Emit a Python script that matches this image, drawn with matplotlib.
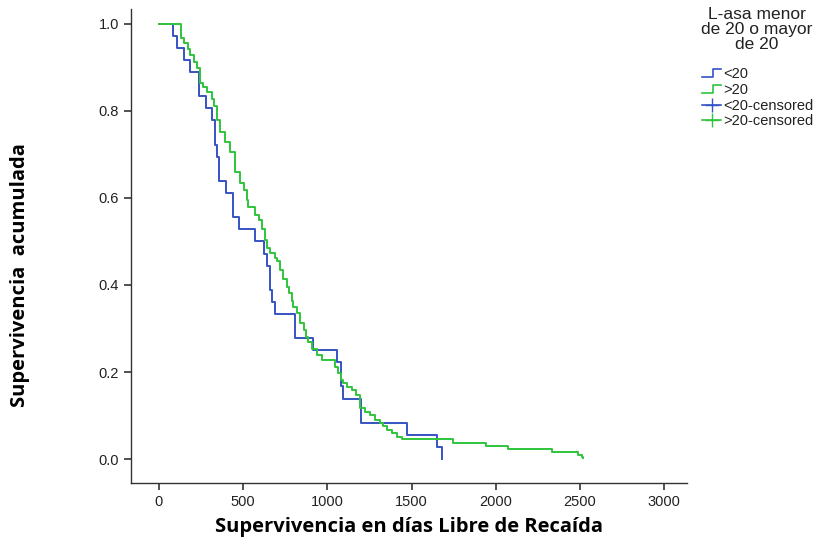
import matplotlib
matplotlib.use('Agg')
import matplotlib.pyplot as plt
from matplotlib.lines import Line2D
from matplotlib.legend_handler import HandlerBase

# drop times (days) and survival level after each drop
t_lt20 = [0, 85, 109, 150, 184, 239, 279, 313, 333, 343, 358, 398, 441, 475, 570,
          624, 640, 659, 669, 689, 808, 913, 1060, 1079, 1094, 1198, 1474, 1649, 1682]
s_lt20 = [1.0, 0.972, 0.944, 0.917, 0.889, 0.833, 0.806, 0.778, 0.722, 0.694, 0.639,
          0.611, 0.556, 0.528, 0.5, 0.472, 0.444, 0.389, 0.361, 0.333, 0.278, 0.25,
          0.222, 0.167, 0.139, 0.083, 0.056, 0.028, 0.0]

t_gt20 = [0, 131, 150, 170, 184, 208, 227, 243, 263, 287, 313, 328, 343, 362, 392,
          422, 451, 481, 505, 521, 530, 570, 596, 610, 629, 640, 659, 689, 702, 719,
          738, 758, 774, 788, 798, 818, 837, 863, 873, 887, 907, 936, 966, 1045, 1065,
          1079, 1094, 1115, 1144, 1170, 1194, 1223, 1253, 1283, 1312, 1332, 1352, 1382,
          1412, 1441, 1748, 1942, 2074, 2332, 2486, 2510, 2520]
s_gt20 = [1.0, 0.967, 0.956, 0.942, 0.929, 0.913, 0.898, 0.864, 0.854, 0.844, 0.827,
          0.810, 0.779, 0.752, 0.729, 0.706, 0.660, 0.634, 0.618, 0.595, 0.580, 0.561,
          0.549, 0.528, 0.503, 0.484, 0.473, 0.461, 0.454, 0.434, 0.413, 0.396, 0.381,
          0.362, 0.350, 0.335, 0.312, 0.297, 0.281, 0.270, 0.254, 0.239, 0.228, 0.212,
          0.197, 0.182, 0.174, 0.165, 0.159, 0.147, 0.117, 0.109, 0.101, 0.090, 0.082,
          0.076, 0.067, 0.059, 0.051, 0.045, 0.0375, 0.030, 0.023, 0.0168, 0.0092,
          0.0053, 0.0016]

group_labels = ['<20', '>20', '<20-censored', '>20-censored']
legend_title = 'L-asa menor\nde 20 o mayor\nde 20'

blue = '#3553c4'
green = '#2fc43c'

plt.rcParams['font.family'] = ['Liberation Sans', 'DejaVu Sans']


class StepHandler(HandlerBase):
    # small step icon like the SPSS legend
    def create_artists(self, legend, orig_handle, xdescent, ydescent, width, height, fontsize, trans):
        xs = [0, width * 0.55, width * 0.55, width]
        ys = [height * 0.1, height * 0.1, height * 0.9, height * 0.9]
        ln = Line2D(xs, ys, color=orig_handle.get_color(), lw=1.2, transform=trans)
        return [ln]


fig = plt.figure(figsize=(8.21, 5.4), dpi=100)
ax = fig.add_axes([131 / 821, 57 / 540, 556 / 821, 474 / 540])

ax.step(t_lt20, s_lt20, where='post', color=blue, lw=1.4)
ax.step(t_gt20, s_gt20, where='post', color=green, lw=1.4)

ax.set_xlim(-166, 3135)
ax.set_ylim(-0.055, 1.034)
ax.set_xticks([0, 500, 1000, 1500, 2000, 2500, 3000])
ax.set_yticks([0.0, 0.2, 0.4, 0.6, 0.8, 1.0])
ax.set_yticklabels(['0.0', '0.2', '0.4', '0.6', '0.8', '1.0'])
for s in ['top', 'right']:
    ax.spines[s].set_visible(False)
for s in ['left', 'bottom']:
    ax.spines[s].set_color('#333333')
    ax.spines[s].set_linewidth(1.0)
ax.tick_params(direction='out', length=5, width=1.2, colors='#333333', labelsize=10.5,
               labelcolor='#222222')

ax.set_xlabel('Supervivencia en días Libre de Recaída', fontsize=14.5, fontweight='bold',
              family=['Open Sans', 'DejaVu Sans'], labelpad=6)
ax.set_ylabel('Supervivencia  acumulada', fontsize=14.5, fontweight='bold',
              family=['Open Sans', 'DejaVu Sans'])
ax.yaxis.set_label_coords(-0.182, 0.439)

fig.text(757 / 821, 1 - 7 / 540, legend_title, ha='center', va='top', fontsize=12.5,
         linespacing=1.02, color='#222222')

handles = [Line2D([], [], color=blue), Line2D([], [], color=green),
           Line2D([], [], color=blue, marker='+', markersize=10, lw=1.2),
           Line2D([], [], color=green, marker='+', markersize=10, lw=1.2)]
leg = fig.legend(handles, group_labels, loc='upper left',
                 bbox_to_anchor=(692 / 821, 1 - 57 / 540), frameon=False, fontsize=10.5,
                 handlelength=1.3, handletextpad=0.15, borderpad=0.2,
                 labelspacing=0.12,
                 handler_map={handles[0]: StepHandler(), handles[1]: StepHandler()})
for txt in leg.get_texts():
    txt.set_color('#222222')

fig.savefig('out.png', dpi=100)
